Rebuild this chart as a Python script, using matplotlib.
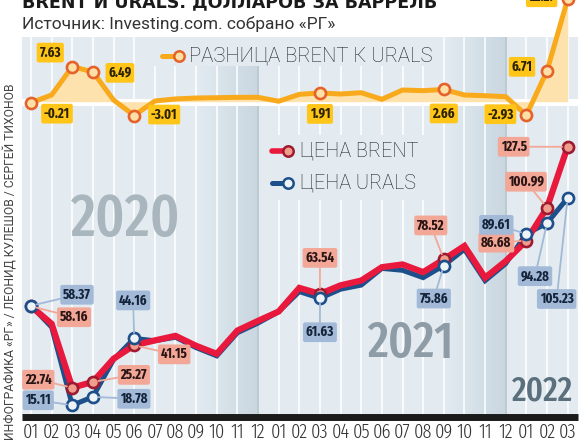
import os

import matplotlib
matplotlib.use("Agg")
import matplotlib.pyplot as plt
import numpy as np
from matplotlib import font_manager as fm
from matplotlib.colors import LinearSegmentedColormap
from matplotlib.patches import Rectangle
from matplotlib.textpath import TextPath

# data: monthly close, 2020-01 .. 2022-03
months = ["01", "02", "03", "04", "05", "06", "07", "08", "09", "10", "11", "12"] * 2 + ["01", "02", "03"]
brent = [58.16, 50.52, 22.74, 25.27, 35.33, 41.15, 43.30, 45.28, 40.95, 37.46, 47.59, 51.80,
         55.88, 66.13, 63.54, 67.25, 69.32, 75.13, 76.33, 72.99, 78.52, 84.38, 70.57, 77.78,
         86.68, 100.99, 127.5]
urals = [58.37, 49.06, 15.11, 18.78, 34.96, 44.16, 43.15, 44.68, 40.15, 36.59, 46.64, 50.85,
         55.78, 64.53, 61.63, 65.58, 67.36, 74.61, 73.79, 70.59, 75.86, 82.92, 69.27, 76.69,
         89.61, 94.28, 105.23]
marked = [0, 2, 3, 5, 14, 20, 24, 25, 26]
brent_labels = ["58.16", "22.74", "25.27", "41.15", "63.54", "78.52", "86.68", "100.99", "127.5"]
urals_labels = ["58.37", "15.11", "18.78", "44.16", "61.63", "75.86", "89.61", "94.28", "105.23"]
diff_labels = ["-0.21", "7.63", "6.49", "-3.01", "1.91", "2.66", "-2.93", "6.71", "22.27"]
years = ["2020", "2021", "2022"]

# label offsets in pixels (dx, dy)
brent_off = [(43, -11), (-34, 8), (41, 7), (40, -9), (0, 36), (-13, 34), (-30, -2), (-21, 26), (-54, 0)]
urals_off = [(46, 11), (-34, 5), (41, -2), (-1, 38), (0, -34), (-10, -33), (-30, 9), (-12, -53), (-11, -101)]
diff_off = [(26, -11), (-22, 14), (27, -1), (30, 1), (0, -21), (0, -24), (-26, 1), (-25, 4), (-26, 2)]

BG = "#e3ebf1"
RED, RED_EDGE, RED_FACE, RED_BOX = "#e8193c", "#9e1a30", "#ef9d8d", "#f2a797"
BLUE, BLUE_FACE, BLUE_BOX = "#1d4f8b", "#eef3f7", "#a2b9d7"
ORANGE, ORANGE_EDGE, ORANGE_FACE, ORANGE_FILL, YELLOW = "#f8aa1c", "#e5622a", "#fde0a6", "#fde2ae", "#ffc519"
SANS = ["Roboto", "DejaVu Sans"]

W, H = 582, 442
X0, DX = 31, 20.64      # pixel of first month, pixel per month
Y0, SY = 440, 2.3       # pixel of $0, pixel per $ (prices)
D0, SD = 101.7, 4.6     # pixel of 0, pixel per $ (difference)
TOP, BOT = 37, 416.5


def find_condensed(target_weight, fallback_weight):
    best, best_score = None, -1e9
    for f in fm.fontManager.ttflist:
        if f.style != "normal":
            continue
        tag = (f.name + os.path.basename(f.fname)).lower().replace("-", "").replace(" ", "").replace("_", "")
        if "mono" in tag or ("serif" in tag and "sans" not in tag):
            continue
        st = str(f.stretch).lower().replace("-", "")
        if "extracondensed" in tag or "ultracondensed" in tag or st in ("extracondensed", "ultracondensed"):
            level = 3
        elif "semicondensed" in tag or st == "semicondensed":
            level = 1
        elif "condensed" in tag or "narrow" in tag or st == "condensed":
            level = 2
        else:
            continue
        w = f.weight if isinstance(f.weight, (int, float)) else fm.weight_dict.get(f.weight, 400)
        score = level * 150 - abs(w - target_weight)
        if score > best_score:
            best, best_score = f, score
    if best is None:
        return fm.FontProperties(family="DejaVu Sans", weight=fallback_weight)
    return fm.FontProperties(fname=best.fname)


def fit_size(prop, s, w_px, h_px):
    ext = TextPath((0, 0), s, size=100, prop=prop).get_extents()
    k = 100 / 72 / 100
    return min(w_px / (ext.width * k), h_px / (ext.height * k))


def sized(prop, size):
    p = prop.copy()
    p.set_size(size)
    return p


def fx(px):
    return px / W


def fy(py):
    return 1 - py / H


def xd(px):
    return (px - X0) / DX


def yd(py):
    return (Y0 - py) / SY


cond_light = find_condensed(300, "normal")
cond_mid = find_condensed(520, "normal")
cond_bold = find_condensed(700, "bold")
tick_fp = sized(cond_light, fit_size(cond_light, "01", 13, 15.5))
label_fp = sized(cond_bold, fit_size(cond_bold, "58.16", 28, 10.5))

fig = plt.figure(figsize=(W / 100, H / 100), dpi=100)
fig.patch.set_facecolor("white")

ax = fig.add_axes([fx(22), fy(BOT), (578 - 22) / W, (BOT - TOP) / H])
ax.set_facecolor(BG)
for side in ["top", "left", "right"]:
    ax.spines[side].set_visible(False)
ax.spines["bottom"].set_linewidth(5.0)
ax.spines["bottom"].set_color("#1b1b1b")
ax.spines["bottom"].set_capstyle("butt")

x = np.arange(len(months))
brent = np.array(brent)
urals = np.array(urals)
diff = brent - urals

# year-end shading
cmap = LinearSegmentedColormap.from_list("fade", [BG, "#c9d7e0"])
grad = np.linspace(0, 1, 64).reshape(1, -1)
for start in [8, 20]:
    ax.imshow(grad, extent=[start, start + 3, yd(BOT), yd(TOP)], aspect="auto", cmap=cmap, zorder=0.5)
for i in x:
    ax.axvline(i, color="white", lw=1.1, zorder=1)
for i in [11, 23]:
    ax.axvline(i, color="#b8c5ce", lw=1.3, zorder=1.1)

# legend background boxes
ax.add_patch(Rectangle((xd(152), yd(66)), xd(440) - xd(152), yd(TOP) - yd(66), fc=BG, ec="none", zorder=1.5))
ax.add_patch(Rectangle((xd(265), yd(200)), xd(425) - xd(265), yd(135) - yd(200), fc=BG, ec="none", zorder=1.5))

ax.set_xlim(xd(22), xd(578))
ax.set_ylim(yd(BOT), yd(TOP))
ax.set_yticks([])
ax.set_xticks(x, months)
ax.tick_params(axis="x", length=0, pad=11.2, colors="#333333")
for t in ax.get_xticklabels():
    t.set_fontproperties(tick_fp)
    t.set_va("center")

# year watermarks
year_spec = [(126, 220, 107, 53, "#aab6be"), (410, 345, 83, 42, "#8d9ca6"), (542, 391, 60, 28, "#5a707d")]
for yr, (cx, cy, w, h, c) in zip(years, year_spec):
    ax.text(xd(cx), yd(cy), yr, fontproperties=sized(cond_mid, fit_size(cond_mid, yr, w, h)),
            color=c, ha="center", va="center", zorder=1.6)

# price lines
ax.plot(x, urals, color=BLUE, lw=3.6, zorder=3, solid_joinstyle="miter")
ax.plot(x, brent, color=RED, lw=4.5, zorder=3.1, solid_joinstyle="miter")
ax.plot(x[marked], brent[marked], "o", ms=8, mfc=RED_FACE, mec=RED_EDGE, mew=1.9, zorder=4)
ax.plot(x[marked], urals[marked], "o", ms=8, mfc=BLUE_FACE, mec=BLUE, mew=1.9, zorder=4.1)

box = "round,pad=0.2,rounding_size=0.15"
for i, lab, off in zip(marked, brent_labels, brent_off):
    ax.annotate(lab, xy=(i, brent[i]), xytext=off, textcoords="offset pixels", ha="center", va="center",
                fontproperties=label_fp, color="#2a1515", zorder=5,
                bbox=dict(boxstyle=box, fc=RED_BOX, ec="none"),
                arrowprops=dict(arrowstyle="-", color=RED_BOX, lw=1.3, shrinkA=0, shrinkB=4))
for i, lab, off in zip(marked, urals_labels, urals_off):
    ax.annotate(lab, xy=(i, urals[i]), xytext=off, textcoords="offset pixels", ha="center", va="center",
                fontproperties=label_fp, color="#14243a", zorder=5,
                bbox=dict(boxstyle=box, fc=BLUE_BOX, ec="none"),
                arrowprops=dict(arrowstyle="-", color=BLUE_BOX, lw=1.3, shrinkA=0, shrinkB=4))

# legends
ax.plot([xd(162), xd(179)], [yd(56)] * 2, color=ORANGE, lw=3.6, solid_capstyle="round", clip_on=False, zorder=2)
ax.plot([xd(179)], [yd(56)], "o", ms=7.5, mfc=ORANGE_FACE, mec=ORANGE_EDGE, mew=1.8, clip_on=False, zorder=2)
ax.text(xd(189), yd(56), "РАЗНИЦА BRENT К URALS", fontsize=14.6, fontweight="light", family=SANS,
        color="#222222", va="center", zorder=2)
ax.plot([xd(272), xd(288)], [yd(151)] * 2, color=RED, lw=4, solid_capstyle="round", zorder=2)
ax.plot([xd(288)], [yd(151)], "o", ms=7.5, mfc=RED_FACE, mec=RED_EDGE, mew=1.8, zorder=2)
ax.text(xd(300), yd(151), "ЦЕНА BRENT", fontsize=14.3, fontweight="light", family=SANS,
        color="#222222", va="center", zorder=2)
ax.plot([xd(272), xd(288)], [yd(183)] * 2, color=BLUE, lw=3.6, solid_capstyle="round", zorder=2)
ax.plot([xd(288)], [yd(183)], "o", ms=7.5, mfc=BLUE_FACE, mec=BLUE, mew=1.8, zorder=2)
ax.text(xd(300), yd(183), "ЦЕНА URALS", fontsize=14.3, fontweight="light", family=SANS,
        color="#222222", va="center", zorder=2)

# difference panel
ax2 = ax.twinx()
ax2.set_ylim((D0 - BOT) / SD, (D0 - TOP) / SD)
ax2.patch.set_visible(False)
for s in ax2.spines.values():
    s.set_visible(False)
ax2.set_yticks([])
ax2.axhline(0, color="white", lw=5, zorder=1)
ax2.fill_between(x, diff, 0, color=ORANGE_FILL, lw=0, zorder=1.5, clip_on=False)
ax2.plot(x, diff, color=ORANGE, lw=3.6, zorder=2, clip_on=False)
ax2.plot(x[marked], diff[marked], "o", ms=8, mfc=ORANGE_FACE, mec=ORANGE_EDGE, mew=1.9, zorder=3, clip_on=False)
for i, lab, off in zip(marked, diff_labels, diff_off):
    ax2.annotate(lab, xy=(i, diff[i]), xytext=off, textcoords="offset pixels", ha="center", va="center",
                 fontproperties=label_fp, color="#2b2200", zorder=5,
                 bbox=dict(boxstyle=box, fc=YELLOW, ec="none"), annotation_clip=False)

# titles and credit
fig.text(fx(22), fy(7), "BRENT И URALS. ДОЛЛАРОВ ЗА БАРРЕЛЬ", fontsize=12.6, fontweight="heavy",
         family=["DejaVu Sans"], color="#1a1a1a", va="baseline")
fig.text(fx(22), fy(24), "Источник: Investing.com. собрано «РГ»", fontsize=12.5, family=SANS,
         color="#333333", va="center")
fig.text(fx(11), fy(262), "ИНФОГРАФИКА «РГ» / ЛЕОНИД КУЛЕШОВ / СЕРГЕЙ ТИХОНОВ", fontsize=8.7,
         family=SANS, color="#444444", rotation=90, ha="center", va="center")

fig.savefig("out.png", dpi=100)
